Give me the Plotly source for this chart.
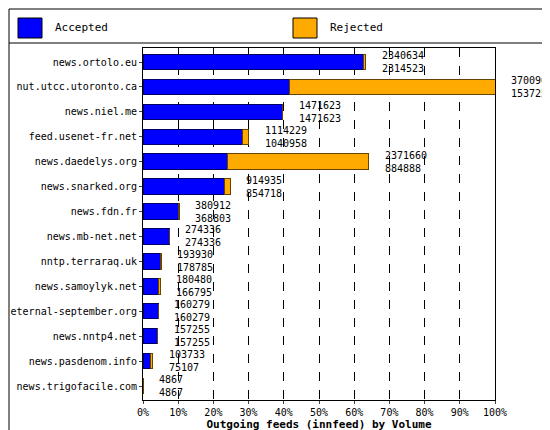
import plotly.graph_objects as go

hosts = ["news.ortolo.eu", "nut.utcc.utoronto.ca", "news.niel.me", "feed.usenet-fr.net",
         "news.daedelys.org", "news.snarked.org", "news.fdn.fr", "news.mb-net.net",
         "nntp.terraraq.uk", "news.samoylyk.net", "eternal-september.org", "news.nntp4.net",
         "news.pasdenom.info", "news.trigofacile.com"]
offered = [2340634, 3700906, 1471623, 1114229, 2371660, 914935, 380912, 274336,
           193930, 180480, 160279, 157255, 103733, 4867]
accepted = [2314523, 1537257, 1471623, 1040958, 884888, 854718, 368803, 274336,
            178785, 166795, 160279, 157255, 75107, 4867]
rejected = [o - a for o, a in zip(offered, accepted)]
labels = [f"{o}<br>{a}" for o, a in zip(offered, accepted)]

vmax = max(offered)
ticks = [vmax * k / 10 for k in range(11)]
ticktext = [f"{k * 10}%" for k in range(11)]

font = "DejaVu Sans Mono"
fig = go.Figure()
fig.add_bar(y=hosts, x=accepted, orientation="h", name="Accepted",
            marker=dict(color="#0000ff", line=dict(color="#000066", width=1)), width=0.62)
fig.add_bar(y=hosts, x=rejected, orientation="h", name="Rejected",
            marker=dict(color="#ffaa00", line=dict(color="#664400", width=1)), width=0.62)

W, H = 550, 430
l, r, t, b = 135, 63, 40, 38
pw, ph = W - l - r, H - t - b

annotations = [dict(x=o, y=h, text=txt, xanchor="left", showarrow=False, xshift=14,
                    align="left", font=dict(size=10, family=font))
               for o, h, txt in zip(offered, hosts, labels)]
for x0, name in [(10, "Accepted"), (285, "Rejected")]:
    annotations.append(dict(xref="paper", yref="paper", x=(x0 + 35 - l) / pw,
                            y=1 + (t - 20) / ph, text=name, xanchor="left",
                            yanchor="middle", showarrow=False, font=dict(size=11, family=font)))

shapes = [
    dict(type="rect", xref="paper", yref="paper", x0=(1 - l) / pw, x1=(W - 1 - l) / pw,
         y0=(-b + 1) / ph, y1=1 + (t - 1) / ph, line=dict(color="black", width=1)),
    dict(type="line", xref="paper", yref="paper", x0=(1 - l) / pw, x1=(W - 1 - l) / pw,
         y0=1 + 5 / ph, y1=1 + 5 / ph, line=dict(color="black", width=1)),
    dict(type="rect", xref="paper", yref="paper", x0=(10 - l) / pw, x1=(34 - l) / pw,
         y0=1 + (t - 30) / ph, y1=1 + (t - 10) / ph, fillcolor="#0000ff",
         line=dict(color="black", width=1)),
    dict(type="rect", xref="paper", yref="paper", x0=(285 - l) / pw, x1=(309 - l) / pw,
         y0=1 + (t - 30) / ph, y1=1 + (t - 10) / ph, fillcolor="#ffaa00",
         line=dict(color="black", width=1)),
]
fig.update_layout(
    width=W, height=H, barmode="stack", bargap=0.3, showlegend=False,
    margin=dict(l=l, r=r, t=t, b=b, autoexpand=False),
    paper_bgcolor="white", plot_bgcolor="white",
    font=dict(family=font, size=10, color="black"),
    shapes=shapes, annotations=annotations,
    xaxis=dict(range=[0, vmax], tickvals=ticks, ticktext=ticktext, showgrid=True,
               gridcolor="black", griddash="dash", gridwidth=1, zeroline=False,
               showline=True, linecolor="black", mirror=True, ticks="outside", ticklen=3,
               automargin=False,
               title=dict(text="<b>Outgoing feeds (innfeed) by Volume</b>",
                          font=dict(size=11), standoff=2)),
    yaxis=dict(autorange="reversed", showline=True, linecolor="black", mirror=True,
               ticks="outside", ticklen=3, showgrid=False, automargin=False),
)
fig.write_html("out.html")
